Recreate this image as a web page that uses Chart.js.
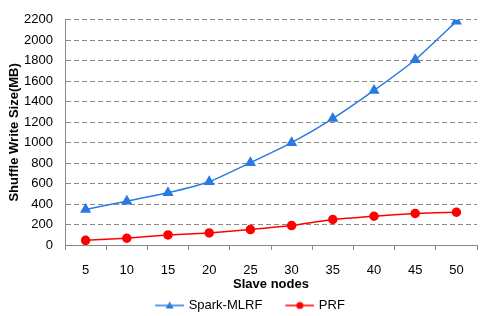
<!DOCTYPE html>
<html>
<head>
<meta charset="utf-8">
<script src="https://cdn.jsdelivr.net/npm/chart.js@4"></script>
<style>
  html, body { margin: 0; padding: 0; background: #fff; }
</style>
</head>
<body>
<canvas id="myChart" width="485" height="316"></canvas>
<script>
// Chart data
var nodes = ['5', '10', '15', '20', '25', '30', '35', '40', '45', '50'];
var sparkMLRF = [347, 428, 510, 618, 804, 1000, 1235, 1510, 1810, 2185];
var prf = [46, 66, 98, 118, 151, 190, 249, 281, 308, 320];
var yTicks = [0, 200, 400, 600, 800, 1000, 1200, 1400, 1600, 1800, 2000, 2200];

var blue = '#2a7ae2';
var red = '#ff0000';

// legend marker: short line with the point drawn on it (left part left blank as item gap)
var iconGap = 18;
function legendIcon(color, style) {
  var c = document.createElement('canvas');
  c.width = iconGap + 29; c.height = 12;
  var g = c.getContext('2d');
  g.translate(iconGap, 0);
  g.strokeStyle = color; g.lineWidth = 1.5;
  g.beginPath(); g.moveTo(0, 6); g.lineTo(29, 6); g.stroke();
  g.fillStyle = color;
  g.beginPath();
  if (style === 'triangle') {
    g.moveTo(14.5, 2); g.lineTo(18.5, 9); g.lineTo(10.5, 9); g.closePath();
  } else {
    g.arc(14.5, 6, 3.5, 0, Math.PI * 2);
  }
  g.fill();
  return c;
}

var font = "'Liberation Sans', Arial, sans-serif";
Chart.defaults.font.family = font;
Chart.defaults.color = '#000';

var ctx = document.getElementById('myChart').getContext('2d');
var myChart = new Chart(ctx, {
  type: 'line',
  data: {
    labels: nodes,
    datasets: [{
      label: 'Spark-MLRF',
      data: sparkMLRF,
      borderColor: blue,
      backgroundColor: blue,
      borderWidth: 1.5,
      pointStyle: 'triangle',
      pointRadius: 5,
      tension: 0.15
    }, {
      label: 'PRF',
      data: prf,
      borderColor: red,
      backgroundColor: red,
      borderWidth: 1.5,
      pointStyle: 'circle',
      pointRadius: 4,
      tension: 0.15
    }]
  },
  options: {
    responsive: false,
    animation: false,
    layout: { padding: { top: 7, right: 8, left: 7, bottom: -6 } },
    plugins: {
      legend: {
        position: 'bottom',
        labels: {
          usePointStyle: true,
          pointStyleWidth: iconGap + 25,
          font: { size: 13 },
          padding: 7,
          generateLabels: function (chart) {
            return chart.data.datasets.map(function (ds, i) {
              return {
                text: ds.label,
                pointStyle: legendIcon(ds.borderColor, ds.pointStyle),
                fontColor: '#000',
                lineWidth: 0,
                datasetIndex: i
              };
            });
          }
        }
      },
      tooltip: { enabled: false }
    },
    scales: {
      x: {
        offset: true,
        afterFit: function (scale) { scale.height = 47; },
        grid: {
          offset: true,
          drawOnChartArea: false,
          drawTicks: true,
          tickLength: 5,
          color: '#888'
        },
        border: { color: '#888' },
        ticks: { font: { size: 13, lineHeight: 1 }, padding: 14, autoSkip: false, maxRotation: 0 },
        title: {
          display: true,
          text: 'Slave nodes',
          font: { size: 13, weight: 'bold', lineHeight: 1 },
          padding: { top: 0, bottom: 1.5 }
        }
      },
      y: {
        min: 0,
        max: 2200,
        afterFit: function (scale) { scale.width = 58; },
        afterBuildTicks: function (axis) {
          axis.ticks = yTicks.map(function (v) { return { value: v }; });
        },
        grid: {
          color: function (c) { return c.tick.value === 0 ? 'rgba(0,0,0,0)' : '#888'; },
          borderDash: [5, 3],
          drawTicks: false
        },
        border: { color: '#888', dash: [5, 3] },
        ticks: {
          font: { size: 13 },
          padding: 12,
          autoSkip: false,
          callback: function (v) { return String(v); }
        },
        title: {
          display: true,
          text: 'Shuffle Write Size(MB)',
          font: { size: 13, weight: 'bold' },
          padding: { top: 0, bottom: 0 }
        }
      }
    }
  }
});
</script>
</body>
</html>
